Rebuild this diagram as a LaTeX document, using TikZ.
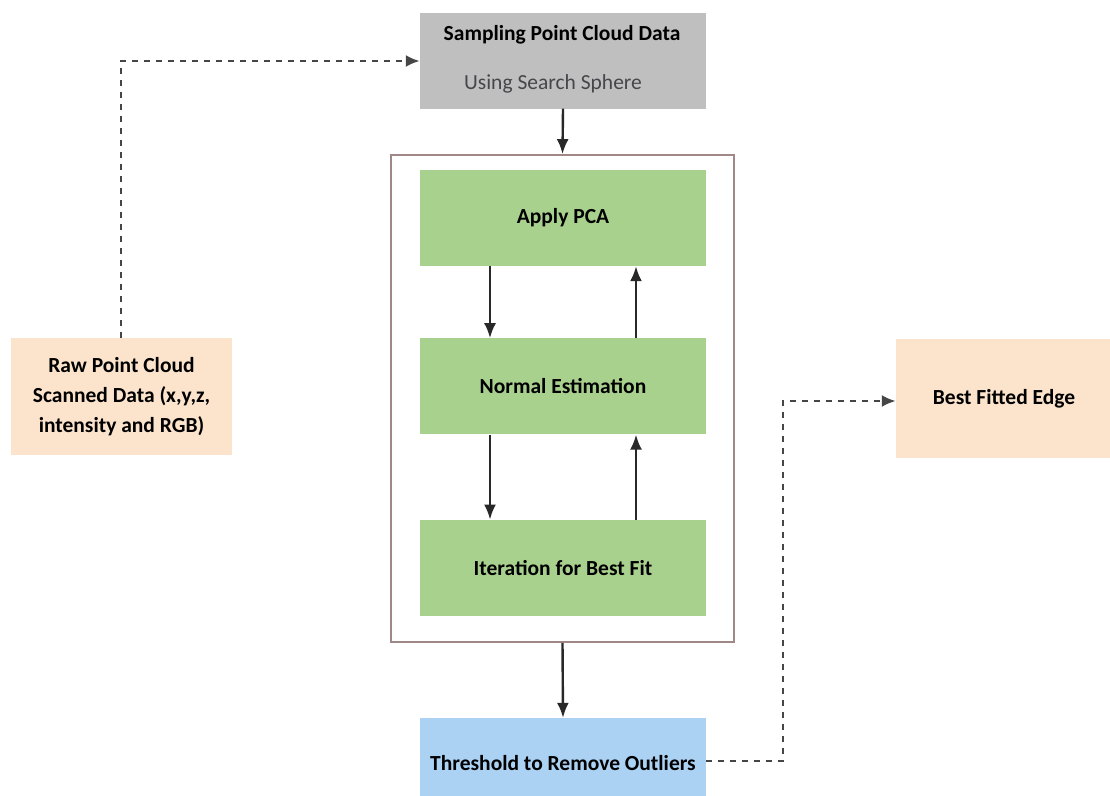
\documentclass[tikz,border=0pt]{standalone}
\usepackage{fontspec}
\setmainfont{Carlito}
\usetikzlibrary{arrows.meta, positioning}
\definecolor{linecolor}{RGB}{40,40,40}
\definecolor{dashcolor}{RGB}{70,70,70}
\definecolor{subtext}{RGB}{70,70,75}
\definecolor{samplefill}{RGB}{191,191,191}
\definecolor{stepfill}{RGB}{169,209,142}
\definecolor{outlierfill}{RGB}{171,209,243}
\definecolor{datafill}{RGB}{252,228,204}
\definecolor{framestroke}{RGB}{160,136,136}
\tikzset{
  box/.style={
    minimum width=286pt,
    minimum height=96pt,
    align=center,
    inner sep=0pt,
    font=\fontsize{21.5}{30}\selectfont\bfseries
  },
  sample/.style={box, fill=samplefill},
  stepbox/.style={box, fill=stepfill},
  outlier/.style={box, fill=outlierfill, minimum height=90pt},
  dataio/.style={box, fill=datafill},
  frame/.style={draw=framestroke, line width=1.8pt, minimum width=343pt, minimum height=487pt},
  arr/.style={-{Latex[length=15pt,width=12pt]}, line width=2.4pt, draw=linecolor},
  dasharr/.style={-{Latex[length=14pt,width=12pt]}, line width=2.4pt, draw=dashcolor, dash pattern=on 6pt off 6pt}
}
\begin{document}
\begin{tikzpicture}[x=1pt, y=-1pt]
\useasboundingbox (0,0) rectangle (1110,795);
\clip (0,0) rectangle (1110,795);

\node[sample] (sampling) at (563,60.5) {};
\node[font=\fontsize{21.5}{30}\selectfont\bfseries] (samplingtitle) at (562,35) {Sampling Point Cloud Data};
\node[font=\fontsize{21.5}{30}\selectfont, text=subtext] (samplingsub) at (553,84) {Using Search Sphere};

\node[frame] (loop) at (562.5,398.5) {};
\node[stepbox] (pca) at (563,218) {Apply PCA};
\node[stepbox, below=72pt of pca] (normal) {Normal Estimation};
\node[stepbox, below=85pt of normal] (iter) {Iteration for Best Fit};

\node[outlier] (threshold) at (563,763) {Threshold to Remove Outliers};

\node[dataio, minimum width=221pt, minimum height=117pt] (raw) at (121.5,396.5)
  {Raw Point Cloud\\Scanned Data (x,y,z,\\intensity and RGB)};
\node[dataio, minimum width=216pt, minimum height=119pt] (edge) at (1004,398.5) {Best Fitted Edge};

\coordinate (rawup) at (121,61);
\coordinate (outturn) at (783,761);
\coordinate (edgeturn) at (783,401);

% input sampling
\draw[dasharr] (raw.north -| rawup) -- (rawup) -- (sampling.west |- rawup);
\draw[arr] (sampling.south) -- (loop.north);

% PCA / normal / fit loop
\draw[arr] ([xshift=-73pt]pca.south) -- ([xshift=-73pt]normal.north);
\draw[arr] ([xshift=73pt]normal.north) -- ([xshift=73pt]pca.south);
\draw[arr] ([xshift=-73pt]normal.south) -- ([xshift=-73pt]iter.north);
\draw[arr] ([xshift=73pt]iter.north) -- ([xshift=73pt]normal.south);

\draw[arr] (loop.south) -- (threshold.north);
\draw[dasharr] (threshold.east |- outturn) -- (outturn) -- (edgeturn) -- (edge.west |- edgeturn);

\end{tikzpicture}
\end{document}
